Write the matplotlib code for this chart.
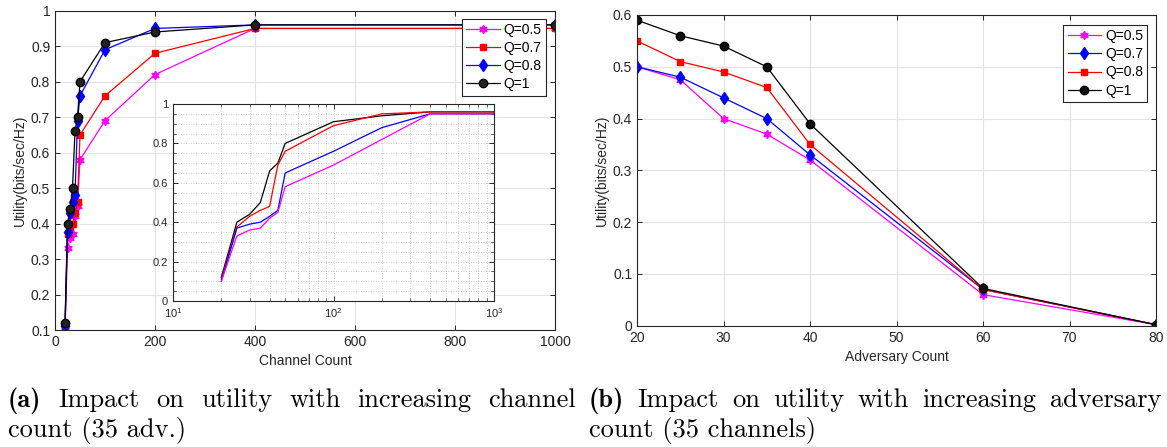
import matplotlib
matplotlib.use("Agg")
import matplotlib.pyplot as plt
from matplotlib.ticker import FixedLocator, LogLocator, NullFormatter

# ------------- DATA -------------
channels = [20, 25, 30, 35, 40, 45, 50, 100, 200, 400, 1000]
ch_q05 = [0.10, 0.33, 0.36, 0.37, 0.42, 0.45, 0.58, 0.69, 0.82, 0.95, 0.95]
ch_q07 = [0.10, 0.37, 0.39, 0.40, 0.43, 0.46, 0.65, 0.76, 0.88, 0.95, 0.95]
ch_q08 = [0.11, 0.375, 0.43, 0.46, 0.48, 0.69, 0.76, 0.89, 0.95, 0.96, 0.96]
ch_q1 = [0.12, 0.40, 0.44, 0.50, 0.66, 0.70, 0.80, 0.91, 0.94, 0.96, 0.96]

adversaries = [20, 25, 30, 35, 40, 60, 80]
adv_q05 = [0.50, 0.475, 0.40, 0.37, 0.32, 0.06, 0.002]
adv_q07 = [0.50, 0.48, 0.44, 0.40, 0.33, 0.07, 0.002]
adv_q08 = [0.55, 0.51, 0.49, 0.46, 0.35, 0.07, 0.002]
adv_q1 = [0.59, 0.56, 0.54, 0.50, 0.39, 0.072, 0.002]

left_labels = ["Q=0.5", "Q=0.7", "Q=0.8", "Q=1"]
right_labels = ["Q=0.5", "Q=0.7", "Q=0.8", "Q=1"]

caption_a = ["(a)", "Impact", "on", "utility", "with", "increasing", "channel"]
caption_a2 = "count (35 adv.)"
caption_b = ["(b)", "Impact", "on", "utility", "with", "increasing", "adversary"]
caption_b2 = "count (35 channels)"
# --------------------------------

MAGENTA = "#ff00ff"
RED = "#ff0000"
BLUE = "#0000ff"
BLACK = "#000000"
HEX = (6, 1, 0)  # six pointed star, like MATLAB hexagram

W, H = 1167, 447
plt.rcParams["font.family"] = ["Liberation Sans", "DejaVu Sans"]
plt.rcParams["mathtext.fontset"] = "custom"
plt.rcParams["mathtext.rm"] = "Liberation Sans"
fig = plt.figure(figsize=(W / 100, H / 100), dpi=100)


def px_axes(l, r, t, b):
    return fig.add_axes([l / W, (H - b) / H, (r - l) / W, (b - t) / H])


def matlab_style(ax, size=10):
    for s in ax.spines.values():
        s.set_color("#262626")
        s.set_linewidth(0.8)
    ax.tick_params(direction="in", top=True, right=True, length=3.5,
                   width=0.7, color="#262626", labelsize=size, labelcolor="#262626")
    ax.tick_params(which="minor", direction="in", top=True, right=True,
                   length=2, width=0.5, color="#262626")


def fmt(v):
    return "%g" % v


# ---- (a) channel count ----
ax1 = px_axes(55, 555, 10.7, 330)
ax1.plot(channels, ch_q05, color=MAGENTA, marker=HEX, ms=6, lw=0.9, label=left_labels[0])
ax1.plot(channels, ch_q07, color=RED, marker="s", ms=5, lw=0.9, label=left_labels[1])
ax1.plot(channels, ch_q08, color=BLUE, marker="d", ms=6, lw=0.9, label=left_labels[2])
ax1.plot(channels, ch_q1, color=BLACK, marker="o", ms=6, lw=0.9, mfc="#222222", label=left_labels[3])
ax1.set_xlim(0, 1000)
ax1.set_ylim(0.1, 1)
xt = [0, 200, 400, 600, 800, 1000]
yt = [0.1, 0.2, 0.3, 0.4, 0.5, 0.6, 0.7, 0.8, 0.9, 1.0]
ax1.set_xticks(xt, [fmt(v) for v in xt])
ax1.set_yticks(yt, [fmt(v) for v in yt])
ax1.grid(True, color="#e3e3e3", lw=0.8)
ax1.set_axisbelow(True)
matlab_style(ax1)
ax1.set_xlabel("Channel Count", fontsize=10, color="#262626", labelpad=4)
ax1.set_ylabel("Utility(bits/sec/Hz)", fontsize=10, color="#262626", labelpad=3)
leg = ax1.legend(loc="upper right", bbox_to_anchor=(0.982, 0.975), fontsize=10,
                 fancybox=False, edgecolor="#262626", framealpha=1,
                 handlelength=2.4, handletextpad=0.3, labelspacing=0.3,
                 borderpad=0.3, borderaxespad=0)
leg.get_frame().set_linewidth(0.8)

# inset on log axis (colours as in the original inset)
ins = px_axes(173, 494, 104, 301)
ins.plot(channels, ch_q1, color=BLACK, lw=0.9)
ins.plot(channels, ch_q08, color=RED, lw=0.9)
ins.plot(channels, ch_q07, color=BLUE, lw=0.9)
ins.plot(channels, ch_q05, color=MAGENTA, lw=0.9)
ins.set_xscale("log")
ins.set_xlim(10, 1000)
ins.set_ylim(0, 1)
ins.xaxis.set_major_locator(FixedLocator([10, 100, 1000]))
ins.xaxis.set_minor_locator(LogLocator(base=10, subs=range(2, 10)))
ins.xaxis.set_minor_formatter(NullFormatter())
ins.set_xticks([10, 100, 1000], [r"$10^{1}$", r"$10^{2}$", r"$10^{3}$"])
iyt = [0, 0.2, 0.4, 0.6, 0.8, 1.0]
ins.set_yticks(iyt, [fmt(v) for v in iyt])
ins.yaxis.set_minor_locator(FixedLocator([i * 0.05 for i in range(21)]))
ins.grid(True, which="both", color="#bdbdbd", lw=0.6, ls=(0, (1, 2)))
ins.set_axisbelow(True)
matlab_style(ins, size=8)

# ---- (b) adversary count ----
ax2 = px_axes(637, 1156, 15, 325.7)
ax2.plot(adversaries, adv_q05, color=MAGENTA, marker=HEX, ms=6, lw=0.9, label=right_labels[0])
ax2.plot(adversaries, adv_q07, color=BLUE, marker="d", ms=6, lw=0.9, label=right_labels[1])
ax2.plot(adversaries, adv_q08, color=RED, marker="s", ms=5, lw=0.9, label=right_labels[2])
ax2.plot(adversaries, adv_q1, color=BLACK, marker="o", ms=6, lw=0.9, mfc="#111111", label=right_labels[3])
ax2.set_xlim(20, 80)
ax2.set_ylim(0, 0.6)
xt2 = [20, 30, 40, 50, 60, 70, 80]
yt2 = [0, 0.1, 0.2, 0.3, 0.4, 0.5, 0.6]
ax2.set_xticks(xt2, [fmt(v) for v in xt2])
ax2.set_yticks(yt2, [fmt(v) for v in yt2])
ax2.grid(True, color="#e3e3e3", lw=0.8)
ax2.set_axisbelow(True)
matlab_style(ax2)
ax2.set_xlabel("Adversary Count", fontsize=10, color="#262626", labelpad=4)
ax2.set_ylabel("Utility(bits/sec/Hz)", fontsize=10, color="#262626", labelpad=3)
leg2 = ax2.legend(loc="upper right", bbox_to_anchor=(0.983, 0.968), fontsize=10,
                  fancybox=False, edgecolor="#262626", framealpha=1,
                  handlelength=2.4, handletextpad=0.3, labelspacing=0.3,
                  borderpad=0.3, borderaxespad=0)
leg2.get_frame().set_linewidth(0.8)

# ---- captions (first line justified like LaTeX) ----
CAP_SIZE = 19


def justified(words, x0, x1, y):
    texts = []
    for i, w in enumerate(words):
        fam = "cmb10" if i == 0 else "cmr10"
        texts.append(fig.text(0, y / H, w, family=fam, fontsize=CAP_SIZE,
                              va="baseline", ha="left"))
    fig.canvas.draw()
    widths = [t.get_window_extent().width for t in texts]
    gap = (x1 - x0 - sum(widths)) / (len(words) - 1)
    x = x0
    for t, w in zip(texts, widths):
        t.set_x(x / W)
        x += w + gap


justified(caption_a, 8, 576, H - 407)
fig.text(8 / W, (H - 437) / H, caption_a2, family="cmr10", fontsize=CAP_SIZE, va="baseline")
justified(caption_b, 589, 1161, H - 407)
fig.text(589 / W, (H - 437) / H, caption_b2, family="cmr10", fontsize=CAP_SIZE, va="baseline")

fig.savefig("out.png", dpi=100)
